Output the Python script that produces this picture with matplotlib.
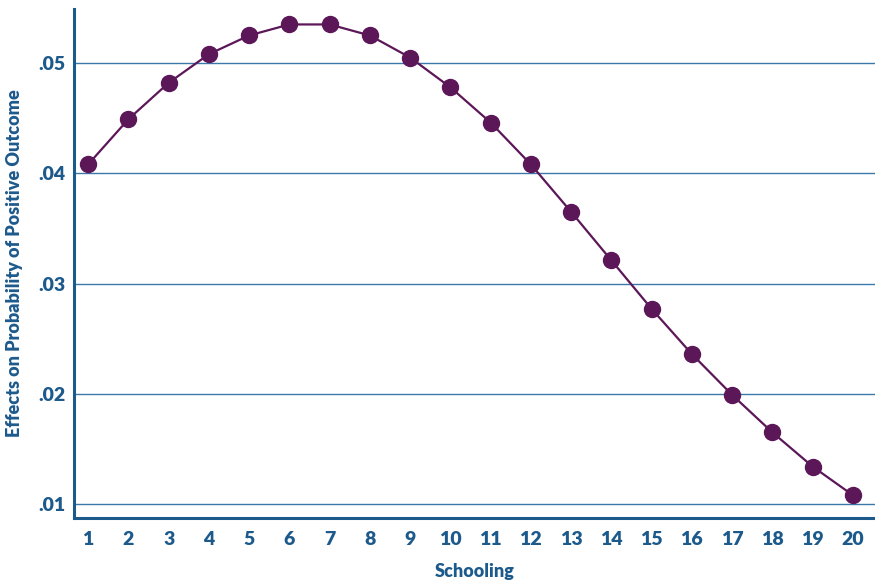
import numpy as np
from matplotlib import pyplot as plt

# Dane
schooling = list(range(1, 21))
effects = [0.0408, 0.0449, 0.0482, 0.0508, 0.0525, 0.0535, 0.0535, 0.0525,
           0.0505, 0.0478, 0.0446, 0.0408, 0.0365, 0.0321, 0.0277, 0.0236,
           0.0199, 0.0165, 0.0134, 0.0108]
y_ticks = [0.01, 0.02, 0.03, 0.04, 0.05]
y_labels = ['.01', '.02', '.03', '.04', '.05']

blue = '#1d5a8c'
purple = '#5c1758'

plt.rcParams['font.family'] = ['Lato', 'DejaVu Sans']

fig = plt.figure(figsize=(8.75, 5.85), dpi=100)
ax = fig.add_axes([0.0846, 0.1145, 0.9154, 0.8701])

ax.plot(schooling, effects, color=purple, linewidth=1.6, marker='o',
        markersize=11.5, markerfacecolor=purple, markeredgecolor=purple, zorder=3)

ax.set_xlim(0.65, 20.55)
ax.set_ylim(0.00873, 0.0549)
ax.set_xticks(schooling)
ax.set_xticklabels([str(s) for s in schooling])
ax.set_yticks(y_ticks)
ax.set_yticklabels(y_labels)

for y in y_ticks:
    ax.axhline(y, color='#3d78aa', linewidth=1.0, zorder=1)

for s in ['top', 'right']:
    ax.spines[s].set_visible(False)
for s in ['left', 'bottom']:
    ax.spines[s].set_color(blue)
    ax.spines[s].set_linewidth(2.2)

ax.tick_params(axis='both', length=0, colors=blue, labelsize=14)
ax.tick_params(axis='x', pad=9)
ax.tick_params(axis='y', pad=6)
for lab in ax.get_xticklabels() + ax.get_yticklabels():
    lab.set_fontweight('heavy')

ax.set_xlabel('Schooling', color=blue, fontsize=13, fontweight='heavy', labelpad=11)
ax.set_ylabel('Effects on Probability of Positive Outcome', color=blue,
              fontsize=13, fontweight='heavy', labelpad=11)

fig.savefig('out.png', dpi=100)
